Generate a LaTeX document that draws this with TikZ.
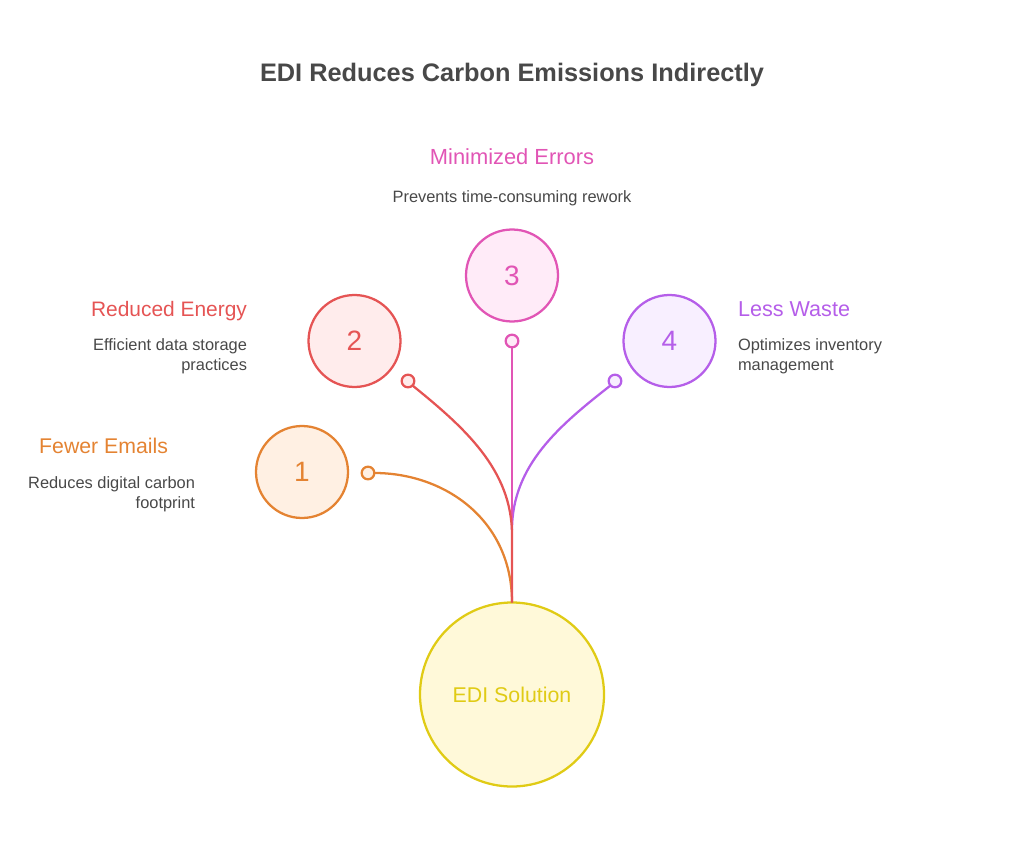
\documentclass[tikz,border=0pt]{standalone}
\usepackage{fontspec}
\setmainfont{Liberation Sans}
\definecolor{cO}{HTML}{E48332}\definecolor{fO}{HTML}{FFF0E3}
\definecolor{cR}{HTML}{E55454}\definecolor{fR}{HTML}{FFECEC}
\definecolor{cP}{HTML}{E155B5}\definecolor{fP}{HTML}{FFEBF8}
\definecolor{cV}{HTML}{B55EE9}\definecolor{fV}{HTML}{F8EFFF}
\definecolor{cY}{HTML}{E0CB15}\definecolor{fY}{HTML}{FFF9D9}
\definecolor{ink}{HTML}{484848}
\tikzset{
 every node/.style={inner sep=0pt,outer sep=0pt},
 bubble/.style={circle,draw=#1,line width=1.7pt,minimum size=69pt,font=\fontsize{21}{25}\selectfont,text=#1},
 dot/.style={circle,draw=#1,line width=1.7pt,minimum size=9.5pt},
 link/.style={draw=#1,line width=1.7pt},
 head/.style={font=\fontsize{16.2}{19}\selectfont,text=#1,anchor=base},
 desc/.style={font=\fontsize{12.3}{15}\selectfont,text=ink,anchor=base,align=#1},
}
\begin{document}
\begin{tikzpicture}[x=0.75pt,y=-0.75pt]
\useasboundingbox (0,0) rectangle (1024,866);
\node[circle,draw=cY,fill=fY,line width=1.7pt,minimum size=138pt,font=\fontsize{16}{20}\selectfont,text=cY] (edi) at (512,694.5) {EDI Solution};
\node[bubble=cO,fill=fO] (n1) at (302,472) {1};
\node[bubble=cR,fill=fR] (n2) at (354.5,341) {2};
\node[bubble=cP,fill=fP] (n3) at (512,275.5) {3};
\node[bubble=cV,fill=fV] (n4) at (669.5,341) {4};
\node[dot=cO,fill=fO] (d1) at (368,473) {};
\node[dot=cR,fill=fR] (d2) at (408,381) {};
\node[dot=cP,fill=fP] (d3) at (512,341) {};
\node[dot=cV,fill=fV] (d4) at (615,381) {};
\coordinate (jr) at (512,535);
\coordinate (jv) at (512,530);
\draw[link=cO] (d1.east) .. controls (445,473) and (512,520) .. (edi.north);
\draw[link=cV] (d4.south west) .. controls (560,425) and (512,465) .. (jv);
\draw[link=cP] (d3.south) -- (jr);
\draw[link=cR] (d2.south east) .. controls (465,428) and (512,470) .. (jr) -- (edi.north);
\node[font=\bfseries\fontsize{19}{24}\selectfont,text=ink,anchor=base] (title) at (512,82) {EDI Reduces Carbon Emissions Indirectly};
\node[head=cP,font=\fontsize{16.4}{19}\selectfont] (h3) at (512,165) {Minimized Errors};
\node[desc=center] (t3) at (512,202.5) {Prevents time-consuming rework};
\node[head=cR,anchor=base east,font=\fontsize{15.7}{19}\selectfont] (h2) at (247,316) {Reduced Energy};
\node[desc=right,anchor=base east] (t2a) at (247,350) {Efficient data storage};
\node[desc=right,anchor=base east] (t2b) at (247,370) {practices};
\node[head=cO,anchor=base east,font=\fontsize{15.95}{19}\selectfont] (h1) at (168,453) {Fewer Emails};
\node[desc=right,anchor=base east] (t1a) at (195,488) {Reduces digital carbon};
\node[desc=right,anchor=base east] (t1b) at (195,508) {footprint};
\node[head=cV,anchor=base west] (h4) at (738,316) {Less Waste};
\node[desc=left,anchor=base west] (t4a) at (738,350) {Optimizes inventory};
\node[desc=left,anchor=base west] (t4b) at (738,370) {management};
\end{tikzpicture}
\end{document}
